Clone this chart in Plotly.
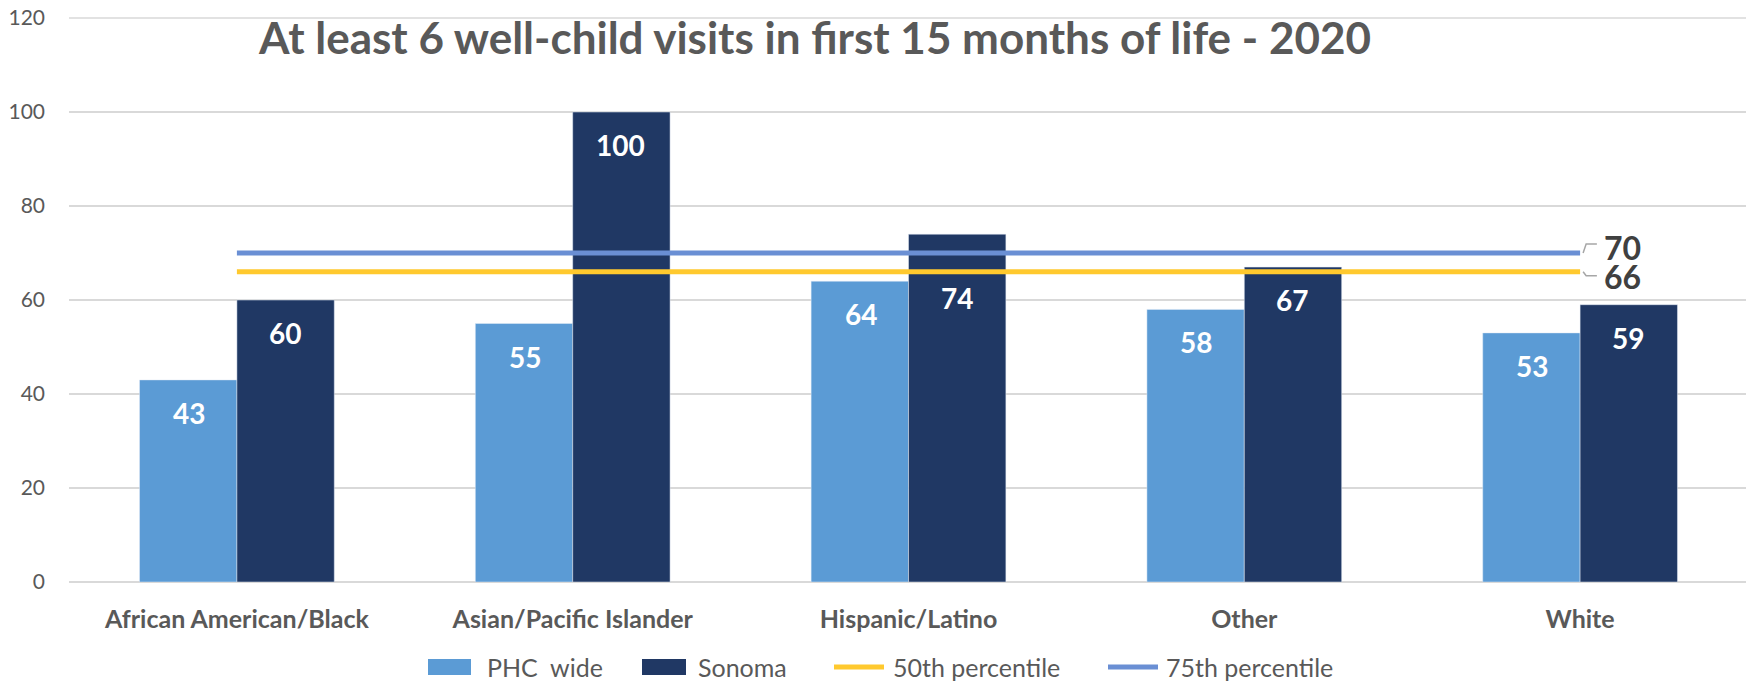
import plotly.graph_objects as go

# data
categories = ["African American/Black", "Asian/Pacific Islander", "Hispanic/Latino", "Other", "White"]
phc_wide = [43, 55, 64, 58, 53]
sonoma = [60, 100, 74, 67, 59]
pct_50 = [66, 66, 66, 66, 66]
pct_75 = [70, 70, 70, 70, 70]
y_ticks = [0, 20, 40, 60, 80, 100, 120]

FONT = "Lato"
GREY = "#595959"
DARK = "#404040"
C_PHC, C_SON, C_50, C_75 = "#5B9BD5", "#203864", "#FFC92E", "#6A8FD4"

# the page body adds an 8px margin, so the figure is drawn 8px smaller
OFF = 8
W, H = 1754 - OFF, 681 - OFF
# plot box in page pixels
L, R, T, B = 69, 1748, 18, 582


def px(x):
    return (x - L) / (R - L)


def py(y):
    return (B - y) / (B - T)


fig = go.Figure()

fig.add_trace(go.Bar(x=categories, y=phc_wide, name="PHC  wide", marker_color=C_PHC))
fig.add_trace(go.Bar(x=categories, y=sonoma, name="Sonoma", marker_color=C_SON))
fig.add_trace(go.Scatter(x=categories, y=pct_50, name="50th percentile", mode="lines",
                         line=dict(color=C_50, width=5)))
fig.add_trace(go.Scatter(x=categories, y=pct_75, name="75th percentile", mode="lines",
                         line=dict(color=C_75, width=5)))

# value labels inside the top of each bar
nudge = {("Sonoma", "Hispanic/Latino"): -31}
for name, vals, dx in [("PHC", phc_wide, -48), ("Sonoma", sonoma, 48)]:
    for cat, v in zip(categories, vals):
        fig.add_annotation(x=cat, y=v, text=f"<b>{v}</b>", showarrow=False,
                           xshift=dx, yshift=-33 + nudge.get((name, cat), 0),
                           font=dict(family=FONT, size=28, color="white"))

# end labels of the percentile lines with small leader lines
last = len(categories) - 1
for vals, dy, path in [
    (pct_75, 6, "M {a},70 L {b},71.9 L {c},71.9"),
    (pct_50, -5, "M {a},66 L {b},65.15 L {c},65.15"),
]:
    fig.add_annotation(x=categories[-1], y=vals[-1], text=f"<b>{vals[-1]}</b>",
                       showarrow=False, xanchor="left", xshift=22, yshift=dy,
                       font=dict(family=FONT, size=32, color=DARK))
    fig.add_shape(type="path", xref="x", yref="y",
                  path=path.format(a=last + 0.009, b=last + 0.018, c=last + 0.05),
                  line=dict(color="#A6A6A6", width=1.5))

# top gridline at 120 (plotly skips the grid line on the range edge)
fig.add_shape(type="line", xref="paper", yref="paper", x0=0, x1=1, y0=1, y1=1,
              line=dict(color="#D9D9D9", width=1.5))

# legend drawn by hand (wide bar swatches)
leg_y = 667
for kind, color, x0, x1, tx, label in [
    ("rect", C_PHC, 428, 471, 485, "PHC  wide"),
    ("rect", C_SON, 642, 686, 696, "Sonoma"),
    ("line", C_50, 834, 884, 891, "50th percentile"),
    ("line", C_75, 1108, 1158, 1164, "75th percentile"),
]:
    if kind == "rect":
        fig.add_shape(type="rect", xref="paper", yref="paper",
                      x0=px(x0), x1=px(x1), y0=py(leg_y + 8), y1=py(leg_y - 8),
                      fillcolor=color, line=dict(width=0))
    else:
        fig.add_shape(type="line", xref="paper", yref="paper",
                      x0=px(x0), x1=px(x1), y0=py(leg_y), y1=py(leg_y),
                      line=dict(color=color, width=5))
    fig.add_annotation(xref="paper", yref="paper", x=px(tx), y=py(leg_y), text=label,
                       showarrow=False, xanchor="left", yanchor="middle",
                       font=dict(family=FONT, size=25, color=GREY))

fig.update_layout(
    width=W, height=H,
    margin=dict(l=L - OFF, r=1754 - R, t=T - OFF, b=681 - B),
    plot_bgcolor="white", paper_bgcolor="white",
    barmode="group", bargap=0.42, bargroupgap=0,
    font=dict(family=FONT, color=GREY),
    title=dict(text="<b>At least 6 well-child visits in first 15 months of life - 2020</b>",
               x=(815 - OFF) / W, xanchor="center", y=1 - (39 - OFF) / H, yanchor="middle",
               yref="container", font=dict(family=FONT, size=44, color=GREY)),
    showlegend=False,
)
fig.update_xaxes(showgrid=False, showline=False, ticks="", ticklabelstandoff=20,
                 automargin=False, tickprefix="<b>", ticksuffix="</b>",
                 tickfont=dict(family=FONT, size=25, color=GREY))
fig.update_yaxes(range=[0, 120], tickvals=y_ticks, showgrid=True, gridcolor="#D9D9D9",
                 gridwidth=1.5, zeroline=True, zerolinecolor="#D9D9D9", zerolinewidth=1.5,
                 showline=False, ticks="", ticklabelstandoff=23, automargin=False,
                 ticklabeloverflow="allow",
                 tickfont=dict(family=FONT, size=21, color=GREY))

fig.write_html("out.html")
